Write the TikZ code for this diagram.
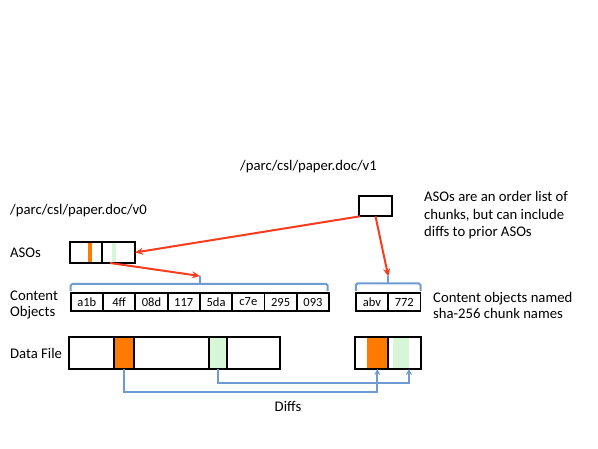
\documentclass[tikz,border=0pt]{standalone}
\usepackage{fontspec}
\setmainfont{Carlito}
\usetikzlibrary{arrows.meta,calc}
\definecolor{redA}{RGB}{250,60,30}
\definecolor{blueA}{RGB}{110,155,210}
\definecolor{orangeA}{RGB}{255,122,0}
\definecolor{greenA}{RGB}{214,247,214}
\begin{document}
\begin{tikzpicture}[x=1pt,y=-1pt,
  box/.style={draw=black,line width=1.8pt,inner sep=0pt,outer sep=0pt,anchor=north west},
  cell/.style={draw=black,line width=1.8pt,inner sep=0pt,outer sep=0pt,minimum width=32.3pt,minimum height=18pt,font=\fontsize{12.5}{13}\selectfont,anchor=center},
  lbl/.style={font=\fontsize{14.7}{16}\selectfont,anchor=west,inner sep=0pt},
  redarrow/.style={draw=redA,line width=2pt,-{Stealth[length=8pt,width=7pt]}},
  bluearrow/.style={draw=blueA,line width=2pt,-{Stealth[length=6pt,width=6pt]}},
  brace/.style={draw=blueA,line width=2pt,rounded corners=1.5pt}]
\useasboundingbox (0,0) rectangle (598,449);

% texts
\node[lbl] (v0) at (10,211) {/parc/csl/paper.doc/v0};
\node[lbl] (v1) at (240,167) {/parc/csl/paper.doc/v1};
\node[lbl] (asol) at (10,253) {ASOs};
\node[lbl,align=left] (col) at (10,305) {Content\\Objects};
\node[lbl] (dfl) at (10,353) {Data File};
\node[lbl,align=left,font=\fontsize{14.7}{17.5}\selectfont] (note1) at (424,215.5) {ASOs are an order list of\\chunks, but can include\\diffs to prior ASOs};
\node[lbl,align=left,font=\fontsize{14.7}{16.5}\selectfont] (note2) at (433,305.5) {Content objects named\\sha-256 chunk names};
\node[lbl,anchor=center] (diffs) at (288,406) {Diffs};

% ASOs v0
\fill[orangeA] (87.7,242) rectangle (92.3,263);
\fill[greenA] (111.7,242) rectangle (116,263);
\node[box,minimum width=65pt,minimum height=21pt] (aso0) at (70,242) {};
\draw[line width=1.8pt] (102.3,242) -- (102.3,263);

% ASOs v1
\node[box,minimum width=33pt,minimum height=20.6pt] (aso1) at (359,195.7) {};

% content cells
\foreach \t [count=\i from 0] in {a1b,4ff,08d,117,5da,c7e,295,093}
  \node[cell] (c\i) at (70.7+16.15+32.3*\i,302) {\t};
\node[cell,minimum width=32.3pt] (ca) at (372,302) {abv};
\node[cell,minimum width=32.3pt] (cb) at (404.3,302) {772};

% braces
\coordinate (tick0) at (200,276);
\coordinate (tick1) at (388.3,276.5);
\draw[brace] (70.7,291) -- (70.7,284) -- (327.7,284) -- (327.7,291);
\draw[brace] (200,284) -- (tick0);
\draw[brace] (355.9,291) -- (355.9,283.5) -- (420.5,283.5) -- (420.5,291);
\draw[brace] (388.3,283.5) -- (tick1);

% red arrows
\draw[redarrow] ($(aso1.south west)+(1,0)$) -- (aso0.east);
\draw[redarrow] (aso1.south) -- (tick1);
\draw[redarrow] ($(aso0.south west)+(40,0)$) -- (tick0);

% data file v0
\node[box,minimum width=210.7pt,minimum height=32.3pt] (df0) at (69.3,336.7) {};
\node[box,fill=orangeA,minimum width=20pt,minimum height=32.3pt] (o0) at (114.3,336.7) {};
\node[box,fill=greenA,minimum width=18.6pt,minimum height=32.3pt] (g0) at (208.7,336.7) {};

% data file v1
\fill[orangeA] (367.3,336.7) rectangle (387.7,369);
\fill[greenA] (393,336.7) rectangle (409,369);
\node[box,minimum width=65.7pt,minimum height=32.3pt] (df1) at (355.3,336.7) {};
\draw[line width=1.8pt] (388.3,336.7) -- (388.3,369);

% diffs
\coordinate (do1) at (377.3,369);
\coordinate (dg1) at (409,369);
\draw[bluearrow] (o0.south) -- ++(0,22.7) -| (do1);
\draw[bluearrow] (g0.south) -- ++(0,14.3) -| (dg1);
\end{tikzpicture}
\end{document}
